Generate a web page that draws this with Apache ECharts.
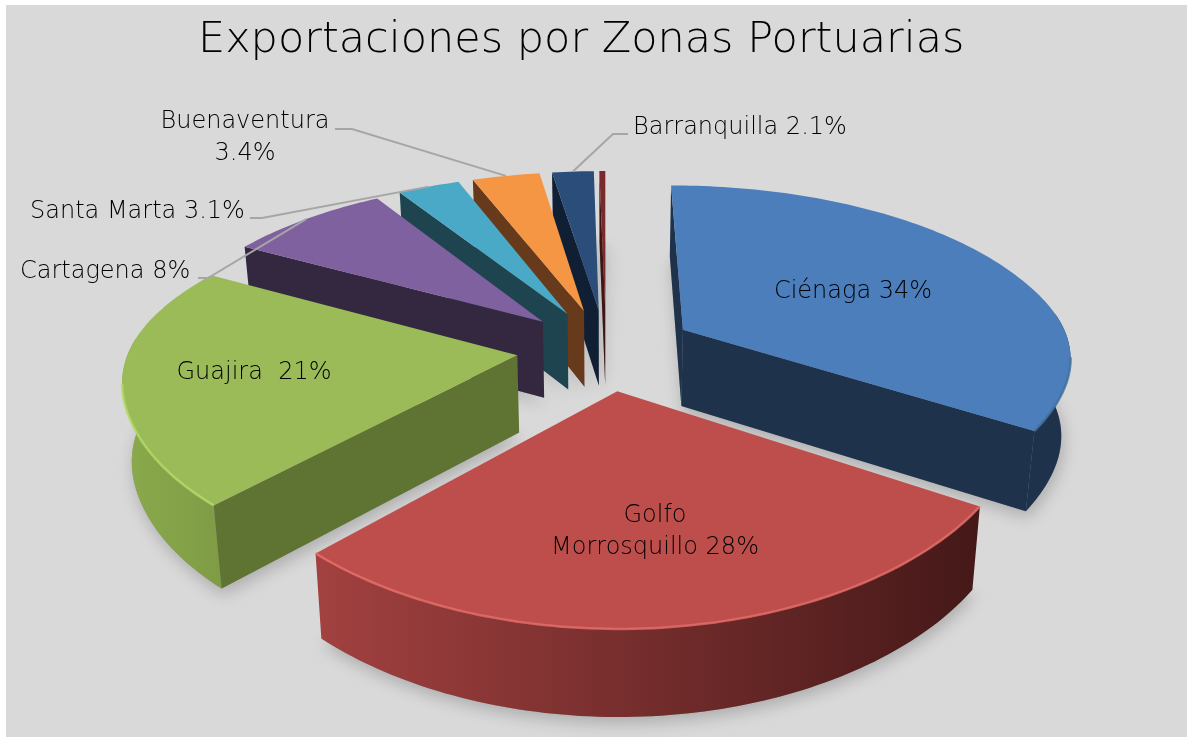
<!DOCTYPE html>
<html>
<head>
<meta charset="utf-8">
<title>Exportaciones por Zonas Portuarias</title>
<script src="https://cdn.jsdelivr.net/npm/echarts@6/dist/echarts.min.js"></script>
<style>
  html, body { margin: 0; padding: 0; background: #fff; }
  #chart { width: 1193px; height: 738px; }
</style>
</head>
<body>
<div id="chart"></div>
<script>
const zonas = ['Ciénaga', 'Golfo Morrosquillo', 'Guajira', 'Cartagena', 'Santa Marta', 'Buenaventura', 'Barranquilla', 'Otros'];
const valores = [34, 28, 21, 8, 3.1, 3.4, 2.1, 0.3];
const etiquetas = ['Ciénaga 34%', 'Golfo\nMorrosquillo 28%', 'Guajira  21%', 'Cartagena 8%', 'Santa Marta 3.1%', 'Buenaventura\n3.4%', 'Barranquilla 2.1%', ''];

const colorTop = ['#4c7ebb', '#bd4e4b', '#9bbb59', '#7f61a0', '#4aa9c6', '#f59644', '#2a4d7a', '#7a2a2a'];
const colorSide = ['#1e324c', '#4f1e1e', '#5f7333', '#33283f', '#1e4450', '#663a1a', '#101f33', '#3d1514'];
const colorWallLeft = ['#1e324c', '#a24140', '#8aaa4c', '#33283f', '#1e4450', '#663a1a', '#101f33', '#3d1514'];
const colorWallRight = ['#1e324c', '#451818', '#7f9c45', '#33283f', '#1e4450', '#663a1a', '#101f33', '#3d1514'];
const colorRim = ['#41709f', '#e66e6a', '#b4dc68', '#7f61a0', '#4aa9c6', '#f59644', '#2a4d7a', '#7a2a2a'];

// proyeccion del pastel 3D (no hay pie 3D en echarts)
const cx = 606, cy = 349, R = 388, K = 177, D = 5.5, Dfront = 8, depth = 77, explode = 0.23;
const total = valores.reduce(function (a, b) { return a + b; }, 0);

function project(gx, gy, down) {
    const s = D / (D - gy);
    // la perspectiva en x se abre menos hacia el frente
    const u = Math.min(1, Math.max(0, gy + 0.5));
    const dx = D + (Dfront - D) * u * u * (3 - 2 * u);
    const x = gx * R * dx / (dx - gy);
    if (!down) return [cx + x, cy + gy * K * s];
    return [cx + x * 0.98, cy + gy * K * s + depth * (1 + (s - 1) * 0.5)];
}

function sliceAngles(i) {
    let acc = 0;
    for (let j = 0; j < i; j++) acc += valores[j];
    return [acc / total * 2 * Math.PI, (acc + valores[i]) / total * 2 * Math.PI];
}

function apexOf(i) {
    const a = sliceAngles(i);
    const mid = (a[0] + a[1]) / 2;
    return [explode * Math.sin(mid), -explode * Math.cos(mid)];
}

function rimPoint(i, ang, down) {
    const ap = apexOf(i);
    return project(ap[0] + Math.sin(ang), ap[1] - Math.cos(ang), down);
}

function arcPoints(i, from, to, down) {
    const out = [];
    const n = Math.max(2, Math.ceil((to - from) / 0.02));
    for (let k = 0; k <= n; k++) out.push(rimPoint(i, from + (to - from) * k / n, down));
    return out;
}

// de atras hacia adelante
const orden = valores.map(function (v, i) { return i; }).sort(function (a, b) {
    return apexOf(a)[1] - apexOf(b)[1];
});

function wallVisible(p0, p1, sign) {
    return sign * (p1[0] - p0[0]) > 0;
}

function renderShadow(params, api) {
    const i = api.value(0);
    const a = sliceAngles(i);
    const ap = apexOf(i);
    const pts = arcPoints(i, a[0], a[1], true);
    pts.push(project(ap[0], ap[1], true));
    return {
        type: 'polygon',
        shape: { points: pts },
        style: {
            fill: 'rgba(120,120,120,0.6)',
            shadowBlur: 16,
            shadowColor: 'rgba(0,0,0,0.35)',
            shadowOffsetY: 6,
            shadowOffsetX: 2
        }
    };
}

function renderSlice(params, api) {
    const i = api.value(0);
    const a = sliceAngles(i);
    const ap = apexOf(i);
    const apTop = project(ap[0], ap[1], false);
    const apBot = project(ap[0], ap[1], true);
    const children = [];

    // pared curva, solo la parte que mira al frente
    const f = Math.max(a[0], Math.PI * 0.47);
    const t = Math.min(a[1], Math.PI * 1.53);
    if (t > f) {
        const top = arcPoints(i, f, t, false);
        const bot = arcPoints(i, f, t, true);
        children.push({
            type: 'polygon',
            shape: { points: top.concat(bot.reverse()) },
            style: {
                fill: new echarts.graphic.LinearGradient(0, 0, 1, 0, [
                    { offset: 0, color: colorWallLeft[i] },
                    { offset: 1, color: colorWallRight[i] }
                ])
            }
        });
    }

    // paredes laterales
    const c0 = rimPoint(i, a[0], false);
    const c1 = rimPoint(i, a[1], false);
    if (wallVisible(apTop, c0, -1)) {
        children.push({
            type: 'polygon',
            shape: { points: [apTop, c0, rimPoint(i, a[0], true), apBot] },
            style: { fill: colorSide[i] }
        });
    }
    if (wallVisible(apTop, c1, 1)) {
        children.push({
            type: 'polygon',
            shape: { points: [apTop, c1, rimPoint(i, a[1], true), apBot] },
            style: { fill: colorSide[i] }
        });
    }

    // cara superior
    const face = arcPoints(i, a[0], a[1], false);
    face.push(apTop);
    children.push({
        type: 'polygon',
        shape: { points: face },
        style: { fill: colorTop[i] }
    });

    // brillo del borde
    const rf = Math.max(a[0], Math.PI * 0.55);
    const rt = Math.min(a[1], Math.PI * 1.45);
    if (rt > rf) {
        children.push({
            type: 'polyline',
            shape: { points: arcPoints(i, rf, rt, false) },
            style: { fill: 'none', stroke: colorRim[i], lineWidth: 2.5, opacity: 0.8 }
        });
    }
    return { type: 'group', children: children };
}

// posicion de textos: [x, y, alineacion] y codos de las guias
const posEtiqueta = [
    [853, 292, 'center'], [655, 532, 'center'], [254, 373, 'center'], [20, 272, 'left'],
    [30, 212, 'left'], [245, 138, 'center'], [633, 128, 'left'], null
];
const codoGuia = [
    null, null, null, [[198, 278], [208, 278]], [[250, 218], [262, 218]],
    [[335, 129], [352, 129]], [[628, 134], [613, 134]], null
];

function renderLabel(params, api) {
    const i = api.value(0);
    const children = [];
    const p = posEtiqueta[i];
    if (!p) return { type: 'group', children: [] };
    if (codoGuia[i]) {
        const a = sliceAngles(i);
        const end = rimPoint(i, (a[0] + a[1]) / 2, false);
        children.push({
            type: 'polyline',
            shape: { points: codoGuia[i].concat([end]) },
            style: { fill: 'none', stroke: '#a6a6a6', lineWidth: 2 }
        });
    }
    children.push({
        type: 'text',
        x: p[0],
        y: p[1],
        style: {
            text: etiquetas[i],
            fill: '#000',
            font: '200 24px "DejaVu Sans"',
            align: p[2],
            verticalAlign: 'middle',
            lineHeight: 32
        }
    });
    return { type: 'group', children: children };
}

const chart = echarts.init(document.getElementById('chart'), null, { renderer: 'canvas' });
chart.setOption({
    animation: false,
    title: {
        text: 'Exportaciones por Zonas Portuarias',
        left: 193,
        top: 14,
        textStyle: { fontFamily: 'DejaVu Sans', fontWeight: 200, fontSize: 43, color: '#000' }
    },
    graphic: [{
        type: 'rect',
        z: -10,
        shape: { x: 6, y: 5, width: 1181, height: 732 },
        style: { fill: '#d9d9d9' }
    }],
    series: [
        { type: 'custom', coordinateSystem: 'none', silent: true, z: 1, data: orden.map(function (i) { return [i]; }), renderItem: renderShadow },
        { type: 'custom', coordinateSystem: 'none', silent: true, z: 2, data: orden.map(function (i) { return [i, valores[i], zonas[i]]; }), renderItem: renderSlice },
        { type: 'custom', coordinateSystem: 'none', silent: true, z: 3, data: orden.map(function (i) { return [i]; }), renderItem: renderLabel }
    ]
});
</script>
</body>
</html>
